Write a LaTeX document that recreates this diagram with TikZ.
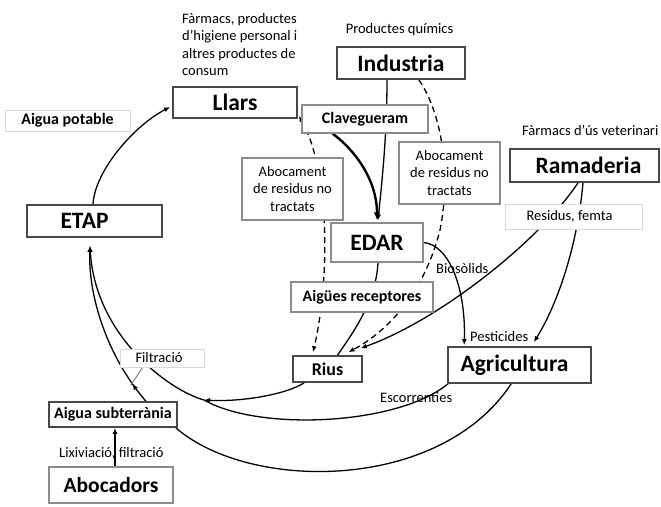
\documentclass[tikz,border=0pt]{standalone}
\usepackage{fontspec}
\setmainfont{Carlito}
\usetikzlibrary{arrows.meta,calc,decorations.markings}
\pgfdeclarelayer{bg}
\pgfsetlayers{bg,main}
\definecolor{dk}{HTML}{484848}
\definecolor{md}{HTML}{8C8C8C}
\definecolor{lt}{HTML}{D9D9D9}
\begin{document}
\begin{tikzpicture}[x=1pt,y=-1pt,
  box/.style={draw, fill=white, inner sep=0pt, align=center, text=black},
  dkbox/.style={box, draw=dk, line width=1.7pt},
  mdbox/.style={box, draw=md, line width=1.1pt},
  ltbox/.style={box, draw=lt, line width=1pt},
  big/.style={font=\fontsize{23.5}{28}\selectfont\bfseries},
  mid/.style={font=\fontsize{16}{19}\selectfont\bfseries},
  reg/.style={font=\fontsize{14.5}{17.5}\selectfont},
  lbl/.style={reg, inner sep=0pt, text=black},
  conn/.style={line width=1.3pt, black},
  arr/.style={conn, -{Latex[length=6pt,width=5pt]}},
  dsh/.style={conn, dash pattern=on 6pt off 4pt},
]
\useasboundingbox (0,0) rectangle (661,506);

% boxes
\node[dkbox, big, minimum width=124pt, minimum height=31pt] (llars) at (235,102.5) {Llars};
\node[ltbox, mid, minimum width=125pt, minimum height=21pt] (potable) at (67.5,120.5) {Aigua potable};
\node[dkbox, big, minimum width=135pt, minimum height=32pt] (etap) at (94.5,221) {ETAP\hspace{20pt}};
\node[dkbox, big, minimum width=128pt, minimum height=32pt] (industria) at (401,63) {Industria};
\node[mdbox, mid, minimum width=126pt, minimum height=28pt] (clav) at (365,119) {Clavegueram};
\node[mdbox, reg, minimum width=101pt, minimum height=62pt] (abocL) at (292.5,189) {Abocament\\de residus no\\tractats};
\node[mdbox, reg, minimum width=101pt, minimum height=62pt] (abocR) at (449.5,173) {Abocament\\de residus no\\tractats};
\node[mdbox, big, minimum width=92pt, minimum height=39pt] (edar) at (377,242.5) {EDAR};
\node[dkbox, big, minimum width=149pt, minimum height=33pt] (ramaderia) at (584.5,165.5) {\hspace{8pt}Ramaderia};
\node[ltbox, reg, minimum width=137pt, minimum height=25pt] (residus) at (573.5,216.5) {Residus, femta\hspace{8pt}};
\node[mdbox, mid, minimum width=142pt, minimum height=30pt] (receptores) at (362,297) {Aigües receptores};
\node[dkbox, font=\fontsize{18}{21}\selectfont\bfseries, minimum width=69pt, minimum height=26pt] (rius) at (327.5,369) {Rius};
\node[dkbox, big, minimum width=143pt, minimum height=36pt] (agri) at (519.5,365) {Agricultura\hspace{10pt}};
\node[ltbox, reg, minimum width=84pt, minimum height=18pt] (filtracio) at (162,358) {Filtració\hspace{6pt}};
\node[dkbox, mid, minimum width=128pt, minimum height=25pt] (subt) at (113,414.5) {Aigua subterrània};
\node[mdbox, font=\fontsize{21.5}{26}\selectfont\bfseries, minimum width=124pt, minimum height=36pt] (abocadors) at (111,485) {Abocadors};

% free texts
\node[lbl, align=left, anchor=north west] (farmacs) at (182,13) {Fàrmacs, productes\\d’higiene personal i\\altres productes de\\consum};
\node[lbl, anchor=base] (quimics) at (399.5,33) {Productes químics};
\node[lbl, anchor=base west] (veterinari) at (522,135) {Fàrmacs d’ús veterinari};
\node[lbl, anchor=base west] (biosolids) at (436,273) {Biosòlids};
\node[lbl, anchor=base west] (pesticides) at (470,341) {Pesticides};
\node[lbl, anchor=base west] (escorrenties) at (380,402) {Escorrenties};
\node[lbl, anchor=base west] (lixiviacio) at (59,457) {Lixiviació, filtració};

\coordinate (merge) at (204,400);
\coordinate (etapin) at ($(etap.south)+(-4.5,8)$);
\coordinate (bjoin) at (131,385);

\begin{pgfonlayer}{bg}
\fill[white] (0,0) rectangle (661,506);
\draw[arr] ($(etap.north)+(-1.5,0)$) .. controls (95,170) and (135,125) .. ($(llars.west)+(-2,4.5)$);
\draw[dsh, {Latex[length=6pt,width=5pt]}-{Latex[length=6pt,width=5pt]}] ($(llars.south east)+(1,-3)$) .. controls (330,170) and (330,280) .. ($(rius.north)+(-14.5,-3)$);
\draw[arr] ($(industria.south)+(-14,0)$) .. controls (387,140) and (381,190) .. ($(edar.north)+(1,-2)$);
\draw[conn, line width=2.4pt, -{Latex[length=8pt,width=6.5pt]}] ($(clav.south west)+(31,0)$) .. controls (355,150) and (377,180) .. ($(edar.north)+(0,-2)$);
\draw[dsh, -{Latex[length=6pt,width=5pt]}] ($(industria.south east)+(-47,0)$) .. controls (440,110) and (452,170) .. (440,230) .. controls (425,290) and (390,330) .. ($(rius.north)+(21,-3)$);
\draw[conn] ($(edar.south)+(1,0)$) .. controls (376,300) and (355,330) .. ($(rius.north)+(10,0)$);
\draw[arr] (edar.east) .. controls (450,245) and (466,290) .. ($(agri.north west)+(17,-1)$);
\draw[arr] ($(ramaderia.south)+(-6.5,0)$) .. controls (540,240) and (440,320) .. ($(rius.north east)+(-2,-7)$);
\draw[arr] ($(ramaderia.south)+(-1.5,0)$) .. controls (578,240) and (560,300) .. ($(agri.north east)+(-58,-4)$);
\draw[arr] ($(agri.south west)+(2,-1)$) .. controls (400,425) and (260,432) .. (merge) .. controls (168,390) and (95,335) .. (etapin);
\draw[arr] ($(rius.south west)+(12,0)$) .. controls (285,395) and (240,402) .. (merge);
\draw[arr, postaction={decorate}, decoration={markings, mark=at position 0.13 with {\arrow{Latex[length=6pt,width=5pt]}}}] ($(subt.north east)+(-32,0)$) .. controls (110,360) and (88,300) .. (etapin);
\draw[line width=1pt, gray] ($(filtracio.south west)+(23,0)$) -- (bjoin);
\draw[conn] ($(agri.south west)+(64,0)$) .. controls (440,492) and (250,492) .. ($(subt.south east)+(-2,0)$);
\draw[arr] ($(abocadors.north)+(4,0)$) -- ($(subt.south)+(2,0)$);
\end{pgfonlayer}
\end{tikzpicture}
\end{document}
